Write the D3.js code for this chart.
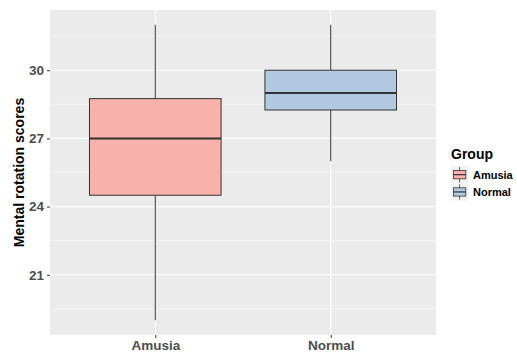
<!DOCTYPE html>
<html>
<head>
<meta charset="utf-8">
<script src="https://cdn.jsdelivr.net/npm/d3@7"></script>
<style>
  body { margin: 0; background: #fff; }
  text { font-family: "Liberation Sans", Arial, sans-serif; }
</style>
</head>
<body>
<div id="chart"></div>
<script>
// box summaries
var groups = ["Amusia", "Normal"];
var mins = [19, 26];
var q1s = [24.5, 28.25];
var medians = [27, 29];
var q3s = [28.75, 30];
var maxs = [32, 32];
var fills = ["#f8b1ab", "#b3c9e2"];
var yTicks = [21, 24, 27, 30];

var W = 517, H = 353;
var margin = {top: 10, right: 81, bottom: 18, left: 50},
    width = W - margin.left - margin.right,
    height = H - margin.top - margin.bottom;

var svg = d3.select("#chart")
    .append("svg")
        .attr("width", W)
        .attr("height", H);

var g = svg.append("g")
    .attr("transform", "translate(" + margin.left + "," + margin.top + ")");

// scales (ggplot-style 5% expansion on y, 0.6 on discrete x)
var lo = d3.min(mins), hi = d3.max(maxs), pad = (hi - lo) * 0.05;
var y = d3.scaleLinear()
    .domain([lo - pad, hi + pad])
    .range([height, 0]);
var x = d3.scaleLinear()
    .domain([0.4, groups.length + 0.6])
    .range([0, width]);
var boxW = x(1.75) - x(1);

// panel background
g.append("rect")
    .attr("width", width)
    .attr("height", height)
    .attr("fill", "#ebebeb");

// minor grid
var minor = yTicks.slice(0, -1).map(function(t, i) { return (t + yTicks[i + 1]) / 2; });
minor.unshift(yTicks[0] - 1.5);
minor.push(yTicks[yTicks.length - 1] + 1.5);
g.selectAll(".minor")
    .data(minor.filter(function(d) { return d > y.domain()[0] && d < y.domain()[1]; }))
    .enter().append("line")
    .attr("x1", 0).attr("x2", width)
    .attr("y1", function(d) { return y(d); })
    .attr("y2", function(d) { return y(d); })
    .attr("stroke", "#fff")
    .attr("stroke-width", 0.55);

// major grid
g.selectAll(".major")
    .data(yTicks)
    .enter().append("line")
    .attr("x1", 0).attr("x2", width)
    .attr("y1", function(d) { return y(d); })
    .attr("y2", function(d) { return y(d); })
    .attr("stroke", "#fff")
    .attr("stroke-width", 1.1);
g.selectAll(".vgrid")
    .data(groups)
    .enter().append("line")
    .attr("x1", function(d, i) { return x(i + 1); })
    .attr("x2", function(d, i) { return x(i + 1); })
    .attr("y1", 0).attr("y2", height)
    .attr("stroke", "#fff")
    .attr("stroke-width", 1.1);

// boxes
var box = g.selectAll(".box")
    .data(groups)
    .enter().append("g");

box.append("line")
    .attr("x1", function(d, i) { return x(i + 1); })
    .attr("x2", function(d, i) { return x(i + 1); })
    .attr("y1", function(d, i) { return y(maxs[i]); })
    .attr("y2", function(d, i) { return y(q3s[i]); })
    .attr("stroke", "#333")
    .attr("stroke-width", 1);
box.append("line")
    .attr("x1", function(d, i) { return x(i + 1); })
    .attr("x2", function(d, i) { return x(i + 1); })
    .attr("y1", function(d, i) { return y(q1s[i]); })
    .attr("y2", function(d, i) { return y(mins[i]); })
    .attr("stroke", "#333")
    .attr("stroke-width", 1);
box.append("rect")
    .attr("x", function(d, i) { return x(i + 1) - boxW / 2; })
    .attr("y", function(d, i) { return y(q3s[i]); })
    .attr("width", boxW)
    .attr("height", function(d, i) { return y(q1s[i]) - y(q3s[i]); })
    .attr("fill", function(d, i) { return fills[i]; })
    .attr("stroke", "#333")
    .attr("stroke-width", 1);
box.append("line")
    .attr("x1", function(d, i) { return x(i + 1) - boxW / 2; })
    .attr("x2", function(d, i) { return x(i + 1) + boxW / 2; })
    .attr("y1", function(d, i) { return y(medians[i]); })
    .attr("y2", function(d, i) { return y(medians[i]); })
    .attr("stroke", "#333")
    .attr("stroke-width", 2);

// axes
var yAxis = g.append("g")
    .call(d3.axisLeft(y).tickValues(yTicks).tickSize(3).tickPadding(3));
yAxis.select(".domain").remove();
yAxis.selectAll("line").attr("stroke", "#333");
yAxis.selectAll("text")
    .attr("fill", "#4d4d4d")
    .style("font-size", "13.5px")
    .style("font-weight", "bold")
    .style("font-family", "Liberation Sans, Arial, sans-serif");

var xAxis = g.append("g")
    .attr("transform", "translate(0," + height + ")")
    .call(d3.axisBottom(x).tickValues([1, 2]).tickSize(3).tickPadding(2)
        .tickFormat(function(d) { return groups[d - 1]; }));
xAxis.select(".domain").remove();
xAxis.selectAll("line").attr("stroke", "#333");
xAxis.selectAll("text")
    .attr("fill", "#4d4d4d")
    .style("font-size", "13.5px")
    .style("font-weight", "bold")
    .style("font-family", "Liberation Sans, Arial, sans-serif");

// y title
svg.append("text")
    .attr("transform", "translate(24," + (margin.top + height / 2) + ") rotate(-90)")
    .attr("text-anchor", "middle")
    .style("font-size", "14px")
    .style("font-weight", "bold")
    .text("Mental rotation scores");

// legend
var leg = svg.append("g")
    .attr("transform", "translate(451,144)");
leg.append("text")
    .attr("x", 0).attr("y", 15)
    .style("font-size", "14px")
    .style("font-weight", "bold")
    .text("Group");
var item = leg.selectAll(".item")
    .data(groups)
    .enter().append("g")
    .attr("transform", function(d, i) { return "translate(0," + (22 + i * 17.3) + ")"; });
item.append("rect")
    .attr("width", 17.3).attr("height", 17.3)
    .attr("fill", "#f2f2f2");
item.append("line")
    .attr("x1", 8.6).attr("x2", 8.6)
    .attr("y1", 1).attr("y2", 16.3)
    .attr("stroke", "#333").attr("stroke-width", 0.8);
item.append("rect")
    .attr("x", 2.5).attr("y", 4.5)
    .attr("width", 12.3).attr("height", 8.3)
    .attr("fill", function(d, i) { return fills[i]; })
    .attr("stroke", "#333").attr("stroke-width", 0.8);
item.append("line")
    .attr("x1", 2.5).attr("x2", 14.8)
    .attr("y1", 8.65).attr("y2", 8.65)
    .attr("stroke", "#333").attr("stroke-width", 1.2);
item.append("text")
    .attr("x", 22).attr("y", 12.8)
    .style("font-size", "11px")
    .style("font-weight", "bold")
    .text(function(d) { return d; });
</script>
</body>
</html>
